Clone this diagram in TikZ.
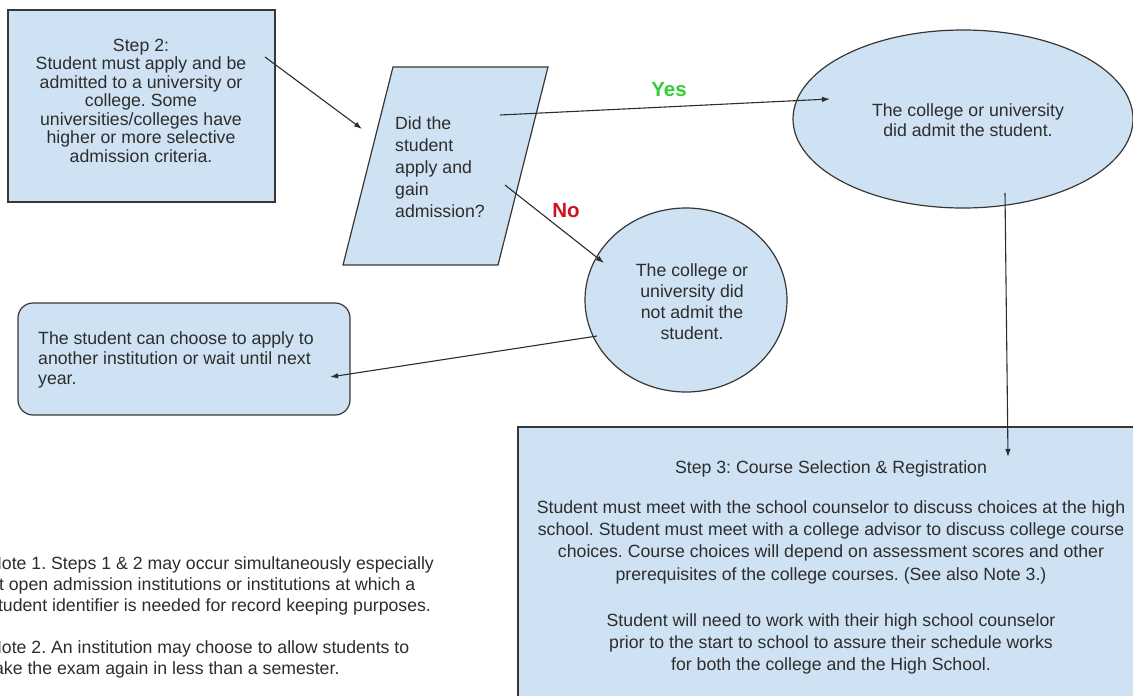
\documentclass[tikz,border=0pt]{standalone}
\usepackage{fontspec}
\setmainfont{Liberation Sans}
\usetikzlibrary{shapes.geometric,arrows.meta}
\definecolor{boxfill}{RGB}{207,226,243}
\definecolor{ink}{RGB}{45,45,45}
\definecolor{edge}{RGB}{55,55,55}
\definecolor{yesgreen}{RGB}{52,205,52}
\definecolor{nored}{RGB}{204,20,30}
\tikzset{
  shapebox/.style={draw=edge, line width=1.2pt, fill=boxfill, inner sep=0pt},
  txt/.style={text=ink, inner sep=0pt},
  conn/.style={draw=ink, line width=1.1pt, -{Latex[length=8pt,width=5.5pt]}},
  lbl/.style={inner sep=0pt, font=\fontsize{20.5}{23}\selectfont\bfseries},
}
\begin{document}
\frenchspacing
\begin{tikzpicture}[x=1pt,y=-1pt]
\useasboundingbox (0,0) rectangle (1133,696);
\fill[white] (0,0) rectangle (1133,696);

% shapes
\node[shapebox, rectangle, minimum width=267pt, minimum height=192pt] (step2) at (141.5,106) {};
\coordinate (decision) at (445.5,166);
\draw[shapebox] (393,67) -- (548,67) -- (498,265) -- (343,265) -- cycle;
\node[shapebox, ellipse, minimum width=340pt, minimum height=178pt] (admitted) at (963,119) {};
\node[shapebox, ellipse, minimum width=202pt, minimum height=184pt] (rejected) at (686,300) {};
\node[shapebox, rectangle, rounded corners=15pt, minimum width=332pt, minimum height=112pt] (retry) at (184,359) {};
\node[shapebox, rectangle, minimum width=624pt, minimum height=278pt] (step3) at (830,566) {};

% texts
\node[txt, align=center, font=\fontsize{17.7}{18.5}\selectfont] (step2t) at (141,100.5)
  {Step 2:\\Student must apply and be\\admitted to a university or\\college. Some\\universities/colleges have\\higher or more selective\\admission criteria.};
\node[txt, align=left, anchor=west, font=\fontsize{17.7}{22}\selectfont] (decisiont) at (395,167)
  {Did the\\student\\apply and\\gain\\admission?};
\node[txt, align=center, font=\fontsize{17.7}{20}\selectfont] (admittedt) at (968,120)
  {The college or university\\did admit the student.};
\node[txt, align=center, font=\fontsize{17.7}{21}\selectfont] (rejectedt) at (692,301.5)
  {The college or\\university did\\not admit the\\student.};
\node[txt, align=left, anchor=west, font=\fontsize{17.7}{20}\selectfont] (retryt) at (38,360)
  {The student can choose to apply to\\another institution or wait until next\\year.};
\node[txt, align=center, font=\fontsize{17.7}{22.3}\selectfont] (step3t) at (831,567.5)
  {Step 3: Course Selection \& Registration\\[17.7pt]
   Student must meet with the school counselor to discuss choices at the high\\
   school. Student must meet with a college advisor to discuss college course\\
   choices. Course choices will depend on assessment scores and other\\
   prerequisites of the college courses. (See also Note 3.)\\[23.7pt]
   Student will need to work with their high school counselor\\
   prior to the start to school to assure their schedule works\\
   for both the college and the High School.};
\node[txt, align=left, anchor=west, font=\fontsize{17.7}{21}\selectfont] (note1) at (-11,585.5)
  {Note 1. Steps 1 \& 2 may occur simultaneously especially\\at open admission institutions or institutions at which a\\student identifier is needed for record keeping purposes.};
\node[txt, align=left, anchor=west, font=\fontsize{17.7}{21}\selectfont] (note2) at (-11,659)
  {Note 2. An institution may choose to allow students to\\take the exam again in less than a semester.};

% connector end points
\coordinate (s2out) at (265,57);
\coordinate (decin) at (362,129);
\coordinate (yesout) at (500,115);
\coordinate (admin) at (830,99);
\coordinate (noout) at (505,185);
\coordinate (rejin) at (604,263);
\coordinate (admout) at (1005,193);
\coordinate (s3in) at (1008,457);
\coordinate (rejout) at (597,336);
\coordinate (retryin) at (330,377);

\draw[conn] (s2out) -- (decin);
\draw[conn] (yesout) -- (admin);
\draw[conn] (noout) -- (rejin);
\draw[conn] (admout) -- (s3in);
\draw[conn] (rejout) -- (retryin);

\node[lbl, text=yesgreen] (yes) at (669,90) {Yes};
\node[lbl, text=nored] (no) at (566,211) {No};
\end{tikzpicture}
\end{document}
